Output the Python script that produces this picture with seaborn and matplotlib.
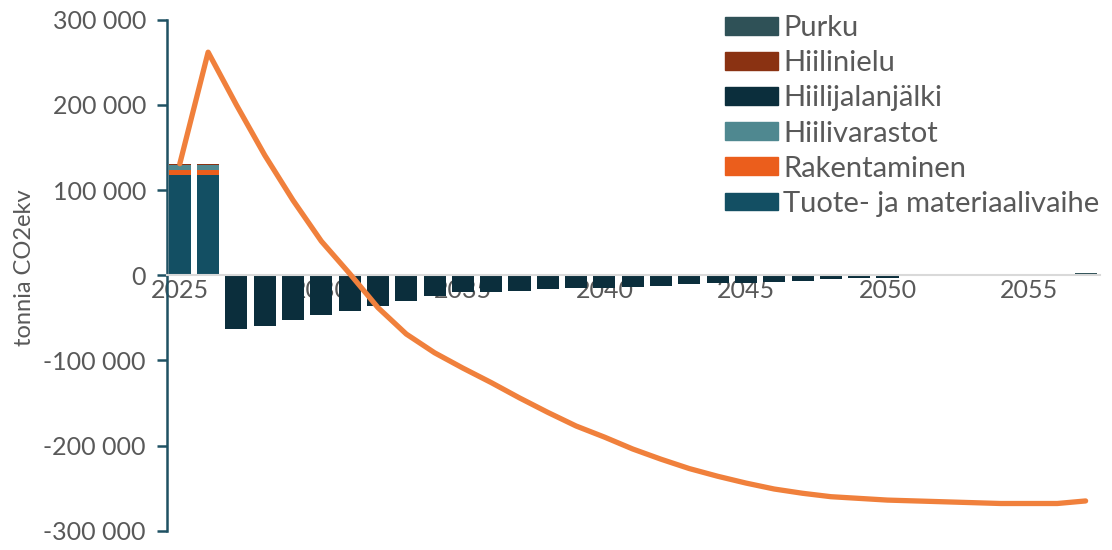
import numpy as np
import matplotlib.pyplot as plt
import seaborn as sns
from matplotlib.patches import Patch
from matplotlib.ticker import FuncFormatter

# Values (tonnia CO2ekv)
years = list(range(2025, 2058))
tuote = [118000, 118000, 0, 0, 0, 0, 0, 0, 0, 0, 0, 0, 0, 0, 0, 0, 0,
         0, 0, 0, 0, 0, 0, 0, 0, 0, 0, 0, 0, 0, 0, 0, 0]
rakentaminen = [6000, 6000, 0, 0, 0, 0, 0, 0, 0, 0, 0, 0, 0, 0, 0, 0, 0,
                0, 0, 0, 0, 0, 0, 0, 0, 0, 0, 0, 0, 0, 0, 0, 0]
hiilivarastot = [6000, 6000, 0, 0, 0, 0, 0, 0, 0, 0, 0, 0, 0, 0, 0, 0, 0,
                 0, 0, 0, 0, 0, 0, 0, 0, 0, 0, 0, 0, 0, 0, 0, 0]
hiilijalanjalki = [0, 0, -63600, -59700, -53000, -47000, -42000, -36000, -30000,
                   -24400, -19700, -19700, -18500, -16600, -15500, -15500, -13800,
                   -12700, -10800, -9600, -9600, -7600, -6800, -4500, -3500, -3500,
                   0, 0, 0, 0, 0, 0, 0]
hiilinielu = [800, 800, 0, 0, 0, 0, 0, 0, 0, 0, 0, 0, 0, 0, 0, 0, 0,
              0, 0, 0, 0, 0, 0, 0, 0, 0, 0, 0, 0, 0, 0, 0, 0]
purku = [0, 0, 0, 0, 0, 0, 0, 0, 0, 0, 0, 0, 0, 0, 0, 0, 0,
         0, 0, 0, 0, 0, 0, 0, 0, 0, 0, 0, 0, 0, 0, 0, 3000]
kumulatiivinen = [131000, 262000, 200000, 141000, 88000, 40000, 2000, -38000,
                  -69000, -91000, -109000, -126000, -144000, -161000, -177000,
                  -190000, -204000, -216000, -227000, -236000, -244000, -251000,
                  -256000, -260000, -262000, -264000, -265000, -266000, -267000,
                  -268000, -268000, -268000, -265000]

# stacking order bottom -> top
series = [
    ("Tuote- ja materiaalivaihe", tuote, "#134F63"),
    ("Rakentaminen", rakentaminen, "#EB5E1C"),
    ("Hiilivarastot", hiilivarastot, "#4F8890"),
    ("Hiilijalanjälki", hiilijalanjalki, "#0B2E3C"),
    ("Hiilinielu", hiilinielu, "#8A3212"),
    ("Purku", purku, "#2F5157"),
]

sns.set_theme(style="white")
plt.rcParams["font.family"] = ["Lato", "DejaVu Sans"]
text_col = "#595959"
axis_col = "#1F5163"

fig, ax = plt.subplots(figsize=(11.12, 5.5), dpi=100)
fig.subplots_adjust(left=0.150, right=0.989, top=0.964, bottom=0.035)

pos_base = np.zeros(len(years))
neg_base = np.zeros(len(years))
for name, vals, col in series:
    v = np.array(vals, dtype=float)
    bottom = np.where(v >= 0, pos_base, neg_base)
    ax.bar(years, v, bottom=bottom, width=0.78, color=col, edgecolor="none", zorder=2)
    pos_base += np.clip(v, 0, None)
    neg_base += np.clip(v, None, 0)

sns.lineplot(x=years, y=kumulatiivinen, color="#F0803C", linewidth=3.8, ax=ax, zorder=4)
for ln in ax.lines:
    ln.set_solid_capstyle("round")
    ln.set_solid_joinstyle("round")

ax.set_xlim(2024.54, 2057.5)
ax.set_ylim(-300000, 300000)
ax.set_yticks(np.arange(-300000, 300001, 100000))
ax.yaxis.set_major_formatter(FuncFormatter(lambda v, p: f"{v:,.0f}".replace(",", " ")))
ax.set_xticks([2025, 2030, 2035, 2040, 2045, 2050, 2055])

for s in ["top", "right"]:
    ax.spines[s].set_visible(False)
ax.spines["left"].set_color(axis_col)
ax.spines["left"].set_linewidth(1.8)
ax.spines["bottom"].set_position(("data", 0))
ax.spines["bottom"].set_color("#D9D9D9")
ax.spines["bottom"].set_linewidth(1.5)
ax.spines["bottom"].set_zorder(3)

ax.tick_params(axis="y", direction="out", length=7, width=1.8, color=axis_col,
               labelsize=18, labelcolor=text_col, pad=8, left=True)
ax.tick_params(axis="x", length=0, labelsize=18, labelcolor=text_col, pad=3)

ax.set_ylabel("tonnia CO2ekv", fontsize=17, color=text_col)
ax.yaxis.set_label_coords(-0.141, 0.515)

handles = [Patch(color=col, label=name) for name, vals, col in series[::-1]]
fig.legend(handles=handles, loc="upper left", bbox_to_anchor=(0.652, 0.972),
           frameon=False, fontsize=21, handlelength=1.8, handleheight=0.55,
           handletextpad=0.2, labelspacing=0.31, borderaxespad=0, borderpad=0,
           labelcolor=text_col)

plt.savefig("out.png", dpi=100)
plt.close()
